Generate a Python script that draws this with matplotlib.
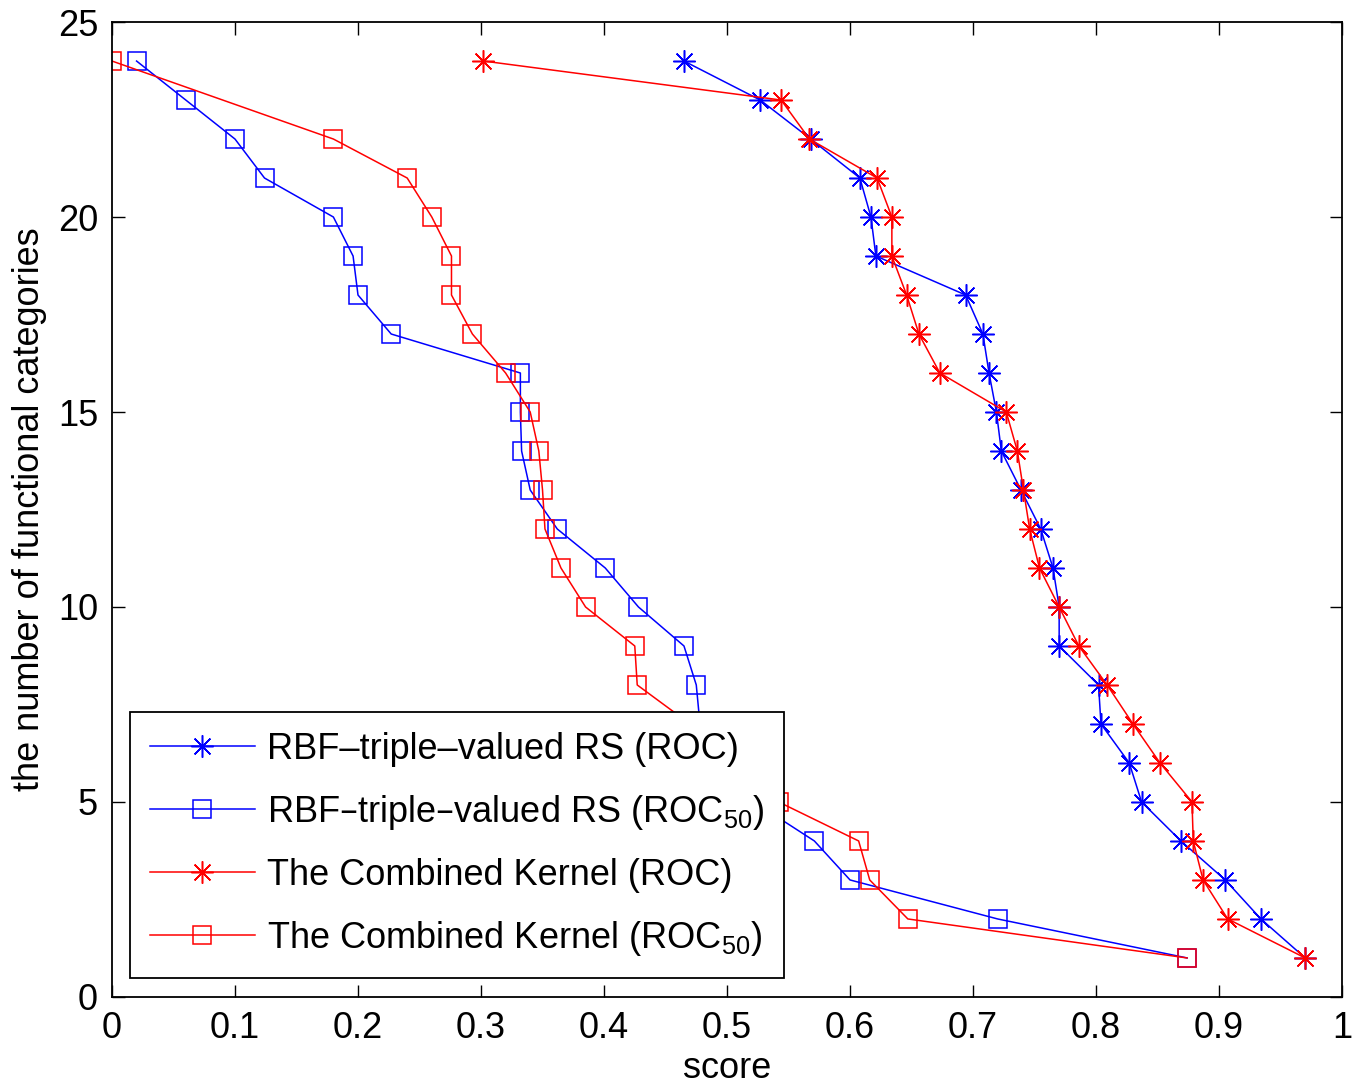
import matplotlib
matplotlib.use("Agg")
import matplotlib.pyplot as plt

# --------------------------------------------------------------------------- #
#  Data
# --------------------------------------------------------------------------- #
n_cats = list(range(24, 0, -1))

rbf_roc = [0.465, 0.527, 0.568, 0.608, 0.617, 0.621, 0.694, 0.708, 0.713, 0.719,
           0.723, 0.739, 0.755, 0.765, 0.770, 0.770, 0.802, 0.804, 0.827, 0.837,
           0.869, 0.905, 0.934, 0.970]
rbf_roc50 = [0.020, 0.060, 0.100, 0.124, 0.180, 0.196, 0.200, 0.227, 0.332, 0.332,
             0.333, 0.340, 0.362, 0.401, 0.428, 0.465, 0.475, 0.478, 0.500, 0.522,
             0.571, 0.600, 0.720, 0.874]
comb_roc = [0.302, 0.544, 0.567, 0.622, 0.634, 0.634, 0.646, 0.656, 0.673, 0.727,
            0.736, 0.741, 0.746, 0.754, 0.770, 0.786, 0.809, 0.830, 0.852, 0.878,
            0.879, 0.887, 0.907, 0.970]
# combined kernel ROC50 has no point at 23
comb_roc50_cats = [24] + list(range(22, 0, -1))
comb_roc50 = [0.000, 0.180, 0.240, 0.260, 0.276, 0.276, 0.293, 0.320, 0.340, 0.347,
              0.350, 0.352, 0.365, 0.385, 0.425, 0.427, 0.470, 0.510, 0.542, 0.607,
              0.616, 0.647, 0.874]

x_ticks = [0, 0.1, 0.2, 0.3, 0.4, 0.5, 0.6, 0.7, 0.8, 0.9, 1]
x_ticklabels = ["0", "0.1", "0.2", "0.3", "0.4", "0.5", "0.6", "0.7", "0.8", "0.9", "1"]
y_ticks = [0, 5, 10, 15, 20, 25]

labels = [
    "RBF\u2013triple\u2013valued RS (ROC)",
    "RBF\u2013triple\u2013valued RS (ROC$_{50}$)",
    "The Combined Kernel (ROC)",
    "The Combined Kernel (ROC$_{50}$)",
]

# --------------------------------------------------------------------------- #
#  Style
# --------------------------------------------------------------------------- #
plt.rcParams["font.family"] = ["Liberation Sans", "DejaVu Sans"]
plt.rcParams["mathtext.default"] = "regular"
plt.rcParams["font.size"] = 26

BLUE = (0, 0, 1)
RED = (1, 0, 0)
ASTERISK = (8, 2, 0)
LW = 1.1

fig = plt.figure(figsize=(13.54, 10.86), dpi=100)
ax = fig.add_axes([0.0827, 0.082, 0.9085, 0.8977])

ax.plot(rbf_roc, n_cats, color=BLUE, lw=LW, marker=ASTERISK, ms=16, mew=1.1,
        label=labels[0])
ax.plot(rbf_roc50, n_cats, color=BLUE, lw=LW, marker="s", ms=12.5, mew=1.1,
        mfc="none", label=labels[1])
ax.plot(comb_roc, n_cats, color=RED, lw=LW, marker=ASTERISK, ms=16, mew=1.1,
        label=labels[2])
ax.plot(comb_roc50, comb_roc50_cats, color=RED, lw=LW, marker="s", ms=12.5, mew=1.1,
        mfc="none", label=labels[3])

ax.set_xlim(0, 1)
ax.set_ylim(0, 25)
ax.set_xticks(x_ticks)
ax.set_xticklabels(x_ticklabels)
ax.set_yticks(y_ticks)
ax.tick_params(direction="in", length=9, width=1.0, top=True, right=True,
               labelsize=26, pad=10)
for sp in ax.spines.values():
    sp.set_linewidth(1.3)

ax.set_xlabel("score", fontsize=26, labelpad=4)
ax.set_ylabel("the number of functional categories", fontsize=26, labelpad=8)

leg = ax.legend(loc="lower left", bbox_to_anchor=(0.0146, 0.0195),
                borderaxespad=0, fancybox=False, edgecolor="black",
                framealpha=1, handlelength=2.9, handletextpad=0.35,
                labelspacing=0.72, borderpad=0.55, fontsize=26)
leg.get_frame().set_linewidth(1.3)

fig.savefig("out.png", dpi=100)
